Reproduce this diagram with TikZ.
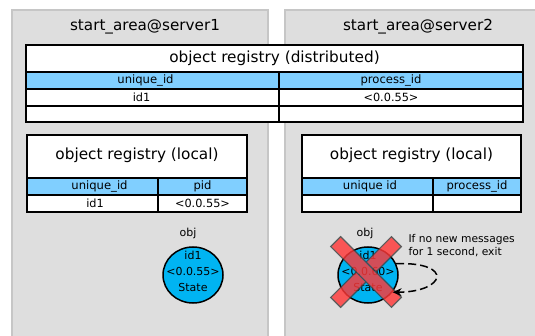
\documentclass[tikz,border=0pt]{standalone}
\usepackage{fontspec}
\setmainfont{DejaVu Sans}
\usetikzlibrary{arrows.meta,shapes.geometric}
\definecolor{panelfill}{HTML}{DEDEDE}
\definecolor{paneldraw}{HTML}{C6C6C6}
\definecolor{hdrblue}{HTML}{80CFFF}
\definecolor{objblue}{HTML}{00B4F2}
\definecolor{xred}{HTML}{FF3838}
\definecolor{xedge}{HTML}{404040}
\begin{document}
\begin{tikzpicture}[x=1pt,y=-1pt,
  panel/.style={fill=panelfill,draw=paneldraw,line width=2pt},
  cell/.style={draw=black,line width=1.5pt,fill=white,anchor=north west,inner sep=0pt,outer sep=0pt},
  hdr/.style={cell,fill=hdrblue,font=\fontsize{11.6}{13}\selectfont},
  val/.style={cell,font=\fontsize{11.3}{13}\selectfont},
  ttl/.style={cell,font=\fontsize{15.3}{18}\selectfont},
  shiftl/.style={execute at begin node={\hspace*{#1}}},
  areattl/.style={font=\fontsize{15.2}{18}\selectfont},
  objnode/.style={ellipse,draw=black,line width=1.5pt,fill=objblue,inner sep=0pt,minimum width=60pt,minimum height=56pt},
  objtext/.style={align=center,inner sep=0pt,font=\fontsize{11}{16}\selectfont},
  small/.style={font=\fontsize{11}{13}\selectfont},
  note/.style={font=\fontsize{10.7}{13}\selectfont,align=left,anchor=west},
  xbar/.style={fill=xred,draw=xedge,line width=1.2pt,minimum width=86pt,minimum height=14pt,inner sep=0pt}
]
\useasboundingbox (0,0) rectangle (535,336);
\begin{scope}
\clip (0,0) rectangle (535,336);
\draw[panel] (12,10) rectangle (268,345);
\draw[panel] (285,10) rectangle (545,345);
\end{scope}
\node[areattl] (t1) at (145,27) {start\_area@server1};
\node[areattl] (t2) at (418,27) {start\_area@server2};

% distributed registry
\node[ttl,minimum width=497pt,minimum height=27pt] (dt) at (26,45) {\raisebox{1pt}{object registry (distributed)}};
\node[hdr,minimum width=253pt,minimum height=17pt,shiftl=-14pt] (dh1) at (26,72) {unique\_id};
\node[hdr,minimum width=244pt,minimum height=17pt,shiftl=-20pt] (dh2) at (279,72) {process\_id};
\node[val,minimum width=253pt,minimum height=17pt,shiftl=-22pt] (dv1) at (26,89) {id1};
\node[val,minimum width=244pt,minimum height=17pt,shiftl=-20pt] (dv2) at (279,89) {<0.0.55>};
\node[cell,minimum width=253pt,minimum height=16pt] (de1) at (26,106) {};
\node[cell,minimum width=244pt,minimum height=16pt] (de2) at (279,106) {};
\draw[line width=2pt] (dt.north west) rectangle (de2.south east);

% local registry server1
\node[ttl,minimum width=220pt,minimum height=43pt] (lt1) at (27,135) {\raisebox{6pt}{object registry (local)}};
\node[hdr,minimum width=131pt,minimum height=17pt,shiftl=14pt] (lh11) at (27,178) {unique\_id};
\node[hdr,minimum width=89pt,minimum height=17pt] (lh12) at (158,178) {pid};
\node[val,minimum width=131pt,minimum height=17pt,shiftl=5pt] (lv11) at (27,195) {id1};
\node[val,minimum width=89pt,minimum height=17pt] (lv12) at (158,195) {<0.0.55>};
\draw[line width=2pt] (lt1.north west) rectangle (lv12.south east);

% local registry server2
\node[ttl,minimum width=219pt,minimum height=43pt] (lt2) at (302,135) {\raisebox{6pt}{object registry (local)}};
\node[hdr,minimum width=131pt,minimum height=17pt,shiftl=5pt] (lh21) at (302,178) {unique id};
\node[hdr,minimum width=88pt,minimum height=17pt] (lh22) at (433,178) {process\_id};
\node[val,minimum width=131pt,minimum height=17pt] (lv21) at (302,195) {};
\node[val,minimum width=88pt,minimum height=17pt] (lv22) at (433,195) {};
\draw[line width=2pt] (lt2.north west) rectangle (lv22.south east);

% objects
\node[small] (ol1) at (188,233) {obj};
\node[objnode] (o1) at (193,275) {};
\node[objtext] (o1t) at ([yshift=3.5pt]o1.center) {id1\\<0.0.55>\\State};
\node[small] (ol2) at (365,233) {obj};
\node[objnode] (o2) at (368,275) {};
\node[objtext] (o2t) at ([yshift=3.5pt]o2.center) {id1\\<0.0.60>\\State};

% red cross
\begin{scope}[transparency group,opacity=0.82]
\node[xbar,rotate=45] (xa) at (366,272) {};
\node[xbar,rotate=-45] (xb) at (366,272) {};
\end{scope}

% timeout arrow
\draw[line width=1.5pt,dash pattern=on 8pt off 4pt,-{Stealth[length=9pt,width=8pt]}]
  (o2.22) .. controls (455,262) and (445,292) .. (o2.-35);
\node[note] (nt) at (405,245.5) {If no new messages\\for 1 second, exit};
\end{tikzpicture}
\end{document}
